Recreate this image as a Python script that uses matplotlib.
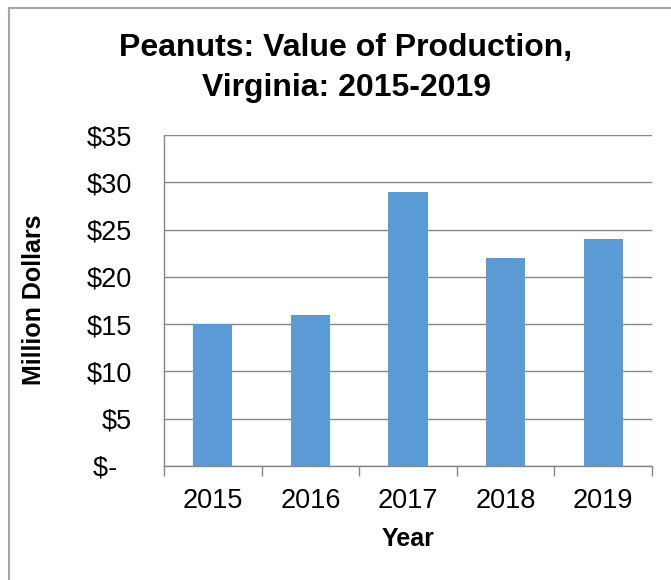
import matplotlib
matplotlib.use("Agg")
import matplotlib.pyplot as plt
from matplotlib.lines import Line2D
import numpy as np

years = ["2015", "2016", "2017", "2018", "2019"]
values = [15, 16, 29, 22, 24]
yticks = [0, 5, 10, 15, 20, 25, 30, 35]
ytick_labels = ["$-  ", "$5", "$10", "$15", "$20", "$25", "$30", "$35"]

plt.rcParams['font.family'] = ['Liberation Sans', 'DejaVu Sans']

W, H = 671, 580
fig = plt.figure(figsize=(W / 100, H / 100), dpi=100)
fig.patch.set_facecolor("white")

# outer chart border (top and left visible)
fig.add_artist(Line2D([8.5 / W, 8.5 / W], [0, 1 - 8 / H], transform=fig.transFigure,
                      color="#A6A6A6", lw=1.5))
fig.add_artist(Line2D([8.5 / W, 1], [1 - 8 / H, 1 - 8 / H], transform=fig.transFigure,
                      color="#A6A6A6", lw=1.5))

left, right, top, bottom = 164, 652, 135, 466
ax = fig.add_axes([left / W, 1 - bottom / H, (right - left) / W, (bottom - top) / H])

x = np.arange(len(years))
ax.bar(x, values, width=0.4, color="#5B9BD5", zorder=3)

ax.set_xlim(-0.5, len(years) - 0.5)
ax.set_ylim(0, 35)
ax.set_yticks(yticks)
ax.set_yticklabels(ytick_labels)
ax.set_xticks(x)
ax.set_xticklabels(years)
ax.set_xticks(np.arange(-0.5, len(years), 1.0), minor=True)

ax.grid(axis="y", color="#868686", lw=1.0, zorder=0)
for s in ["top", "right"]:
    ax.spines[s].set_visible(False)
for s in ["left", "bottom"]:
    ax.spines[s].set_color("#868686")
    ax.spines[s].set_linewidth(1.0)

ax.tick_params(axis="y", length=0, pad=23, labelsize=19.5)
ax.tick_params(axis="x", which="major", length=0, pad=16, labelsize=19.5)
ax.tick_params(axis="x", which="minor", length=7, color="#868686", width=1.0)

ax.set_xlabel("Year", fontsize=18, fontweight="bold", labelpad=9)
fig.text(34 / W, 1 - 300 / H, "Million Dollars", rotation=90, fontsize=18,
         fontweight="bold", ha="center", va="center")

fig.text(346 / W, 1 - 68 / H, "Peanuts: Value of Production,\nVirginia: 2015-2019",
         ha="center", va="center", fontsize=23, fontweight="bold", linespacing=1.42)

fig.savefig("out.png", dpi=100)
